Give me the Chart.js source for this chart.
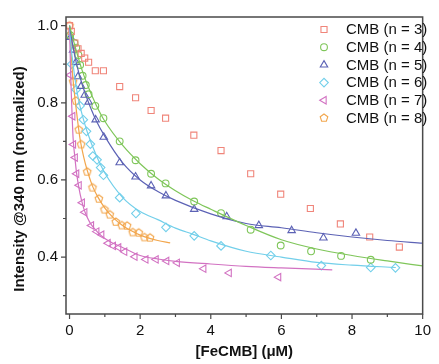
<!DOCTYPE html>
<html><head><meta charset="utf-8">
<script src="https://cdn.jsdelivr.net/npm/chart.js@4/dist/chart.umd.min.js"></script>
<style>html,body{margin:0;padding:0;background:#fff}#wrap{width:439px;height:364px}</style>
</head><body><div id="wrap"><canvas id="c" width="439" height="364"></canvas></div>
<script>
// ---- data ----
const seriesLabels = ['CMB (n = 3)','CMB (n = 4)','CMB (n = 5)','CMB (n = 6)','CMB (n = 7)','CMB (n = 8)'];
const xTickLabels = [0,2,4,6,8,10];
const yTickLabels = [0.4,0.6,0.8,1.0];
const xMinorTicks = [1,3,5,7,9];
const yMinorTicks = [0.3,0.5,0.7,0.9];
const xTitle = '[FeCMB] (\u03BCM)';
const yTitle = 'Intensity @340 nm (normalized)';

// n = 3 (squares, no fit)
const n3X = [0,0.05,0.15,0.24,0.33,0.43,0.54,0.73,0.96,1.42,1.87,2.31,2.72,3.52,4.29,5.13,5.98,6.82,7.67,8.5,9.34];
const n3Y = [1.0,0.985,0.955,0.94,0.928,0.916,0.905,0.883,0.883,0.842,0.813,0.78,0.76,0.716,0.676,0.616,0.563,0.526,0.486,0.452,0.426];
// n = 4 (circles)
const n4X = [0.02,0.14,0.19,0.25,0.30,0.37,0.46,0.54,0.73,0.96,1.42,1.87,2.31,2.72,3.53,4.29,5.13,5.98,6.84,7.69,8.53];
const n4Y = [0.975,0.955,0.943,0.924,0.898,0.87,0.846,0.822,0.792,0.76,0.70,0.651,0.616,0.591,0.544,0.514,0.471,0.43,0.415,0.403,0.393];
const n4FitX = [0,0.1,0.2,0.35,0.5,0.75,1,1.5,2,2.5,3,3.5,4,5,6,7,8,9,10];
const n4FitY = [1.0,0.965,0.932,0.886,0.848,0.795,0.752,0.690,0.642,0.603,0.572,0.546,0.524,0.482,0.445,0.421,0.404,0.390,0.377];
// n = 5 (triangles)
const n5X = [0.03,0.1,0.18,0.24,0.33,0.43,0.54,0.74,0.97,1.42,1.87,2.31,2.73,3.53,4.45,5.36,6.29,7.19,8.11];
const n5Y = [0.97,0.937,0.905,0.868,0.843,0.82,0.802,0.756,0.711,0.645,0.608,0.585,0.559,0.524,0.505,0.482,0.469,0.45,0.462];
const n5FitX = [0,0.1,0.2,0.35,0.5,0.75,1,1.5,2,2.5,3,4,5,6,7,8,9,10];
const n5FitY = [1.0,0.945,0.90,0.85,0.81,0.755,0.713,0.645,0.60,0.57,0.547,0.512,0.487,0.476,0.463,0.452,0.443,0.436];
// n = 6 (diamonds)
const n6X = [0.06,0.185,0.30,0.39,0.48,0.59,0.66,0.78,0.88,0.96,1.42,1.88,2.73,3.53,4.29,5.7,7.13,8.53,9.23];
const n6Y = [0.9,0.834,0.792,0.756,0.726,0.693,0.662,0.652,0.632,0.612,0.554,0.513,0.477,0.455,0.429,0.404,0.378,0.373,0.372];
const n6FitX = [0,0.05,0.1,0.2,0.3,0.4,0.5,0.75,1,1.5,2,2.5,3,3.5,4,5,6,7,8,9.24];
const n6FitY = [1.0,0.94,0.90,0.835,0.79,0.755,0.725,0.665,0.618,0.555,0.518,0.497,0.475,0.459,0.442,0.415,0.400,0.386,0.379,0.373];
// n = 7 (left triangles)
const n7X = [0.02,0.09,0.11,0.16,0.2,0.27,0.36,0.43,0.62,0.77,0.91,1.09,1.24,1.39,1.56,1.85,2.16,2.45,2.75,3.05,3.8,4.52,5.92];
const n7Y = [0.872,0.765,0.692,0.658,0.616,0.586,0.541,0.516,0.482,0.466,0.458,0.436,0.429,0.425,0.414,0.401,0.394,0.394,0.39,0.385,0.37,0.359,0.348];
const n7FitX = [0,0.03,0.06,0.1,0.15,0.2,0.3,0.4,0.5,0.6,0.8,1,1.25,1.5,2,2.5,3,4,5,6,7.44];
const n7FitY = [1.0,0.88,0.80,0.71,0.66,0.617,0.563,0.527,0.503,0.486,0.464,0.448,0.435,0.425,0.404,0.395,0.389,0.382,0.376,0.372,0.367];
// n = 8 (pentagons)
const n8X = [0,0.1,0.18,0.26,0.33,0.5,0.65,0.83,0.99,1.14,1.31,1.48,1.63,1.79,1.96,2.12,2.28];
const n8Y = [1.0,0.855,0.805,0.73,0.692,0.621,0.58,0.551,0.523,0.51,0.491,0.482,0.481,0.464,0.463,0.451,0.45];
const n8FitX = [0,0.05,0.1,0.2,0.3,0.4,0.5,0.65,0.8,1,1.25,1.5,1.75,2,2.25,2.5,2.85];
const n8FitY = [1.0,0.92,0.86,0.775,0.705,0.66,0.625,0.584,0.556,0.527,0.501,0.482,0.468,0.457,0.449,0.443,0.437];

// ---- styling ----
const FONT = "'Liberation Sans', Arial, Helvetica, sans-serif";
const colors = ['#F0857A','#7FC65A','#5C62B5','#72CFEA','#D272C2','#F2A64C'];
const AXIS = '#4a4a4a';

function pentagonCanvas(color, r) {
  const s = Math.ceil(r * 2 + 4);
  const c = document.createElement('canvas');
  c.width = s; c.height = s;
  const g = c.getContext('2d');
  g.strokeStyle = color; g.lineWidth = 1.1;
  g.beginPath();
  for (let k = 0; k < 5; k++) {
    const a = -Math.PI / 2 + k * 2 * Math.PI / 5;
    const px = s / 2 + r * Math.cos(a), py = s / 2 + r * Math.sin(a);
    if (k) g.lineTo(px, py); else g.moveTo(px, py);
  }
  g.closePath(); g.stroke();
  return c;
}
const pent = pentagonCanvas(colors[5], 4);

const markers = [
  {style:'rect', rot:0, r:4.3},
  {style:'circle', rot:0, r:3.4},
  {style:'triangle', rot:0, r:4.3},
  {style:'rectRot', rot:0, r:4.3},
  {style:'triangle', rot:-90, r:4.3},
  {style:pent, rot:0, r:4}
];

const pts = (xs, ys) => xs.map((x, i) => ({x: x, y: ys[i]}));
const scatterX = [n3X,n4X,n5X,n6X,n7X,n8X];
const scatterY = [n3Y,n4Y,n5Y,n6Y,n7Y,n8Y];
const fits = [null,[n4FitX,n4FitY],[n5FitX,n5FitY],[n6FitX,n6FitY],[n7FitX,n7FitY],[n8FitX,n8FitY]];

const datasets = [];
fits.forEach((f, i) => {
  if (!f) return;
  datasets.push({
    label: 'fit' + i, data: pts(f[0], f[1]), showLine: true,
    borderColor: colors[i], borderWidth: 1.2, pointRadius: 0,
    cubicInterpolationMode: 'monotone', fill: false
  });
});
scatterX.forEach((xs, i) => {
  datasets.push({
    label: seriesLabels[i], data: pts(xs, scatterY[i]), showLine: false,
    borderColor: colors[i], backgroundColor: 'rgba(0,0,0,0)', pointBorderWidth: 1.1,
    pointStyle: markers[i].style, pointRotation: markers[i].rot, pointRadius: markers[i].r
  });
});

function drawMarker(ctx, i, x, y) {
  const m = markers[i];
  if (typeof m.style !== 'string') {
    ctx.drawImage(m.style, x - m.style.width / 2, y - m.style.height / 2);
    return;
  }
  ctx.save();
  ctx.strokeStyle = colors[i]; ctx.lineWidth = 1.1; ctx.fillStyle = 'rgba(0,0,0,0)';
  if (Chart.helpers && Chart.helpers.drawPoint) {
    Chart.helpers.drawPoint(ctx, {pointStyle: m.style, rotation: m.rot, radius: m.r, borderWidth: 1.1}, x, y);
  } else {
    ctx.beginPath(); ctx.arc(x, y, m.r, 0, Math.PI * 2); ctx.stroke();
  }
  ctx.restore();
}

const framePlugin = {
  id: 'frame',
  afterDraw(chart) {
    const ctx = chart.ctx, a = chart.chartArea;
    const xs = chart.scales.x, ys = chart.scales.y;
    ctx.save();
    ctx.strokeStyle = AXIS; ctx.lineWidth = 1.5;
    ctx.strokeRect(a.left, a.top, a.right - a.left, a.bottom - a.top);
    ctx.lineWidth = 1.2;
    ctx.beginPath();
    xTickLabels.forEach(v => { const px = xs.getPixelForValue(v); ctx.moveTo(px, a.bottom); ctx.lineTo(px, a.bottom + 5); });
    xMinorTicks.forEach(v => { const px = xs.getPixelForValue(v); ctx.moveTo(px, a.bottom); ctx.lineTo(px, a.bottom + 3); });
    yTickLabels.forEach(v => { const py = ys.getPixelForValue(v); ctx.moveTo(a.left, py); ctx.lineTo(a.left - 5, py); });
    yMinorTicks.forEach(v => { const py = ys.getPixelForValue(v); ctx.moveTo(a.left, py); ctx.lineTo(a.left - 3, py); });
    ctx.stroke();
    // y title
    ctx.fillStyle = '#111';
    ctx.font = 'bold 15px ' + FONT;
    ctx.textAlign = 'center'; ctx.textBaseline = 'middle';
    ctx.translate(19.5, 179); ctx.rotate(-Math.PI / 2);
    ctx.fillText(yTitle, 0, 0);
    ctx.restore();
    // legend
    ctx.save();
    ctx.font = '15px ' + FONT; ctx.fillStyle = '#111';
    ctx.textAlign = 'left'; ctx.textBaseline = 'middle';
    seriesLabels.forEach((lab, i) => {
      const y = 29.5 + i * 17.7;
      drawMarker(ctx, i, 324, y);
      ctx.fillText(lab, 346, y + 0.5);
    });
    ctx.restore();
  }
};

new Chart(document.getElementById('c'), {
  type: 'scatter',
  data: {datasets: datasets},
  options: {
    responsive: false, animation: false, devicePixelRatio: 1, events: [],
    layout: {padding: {left: 0, right: 8, top: 15, bottom: 0}},
    plugins: {legend: {display: false}, tooltip: {enabled: false}},
    scales: {
      x: {
        type: 'linear', min: -0.1, max: 10,
        grid: {display: false, drawTicks: false}, border: {display: false},
        afterBuildTicks: s => { s.ticks = xTickLabels.map(v => ({value: v})); },
        afterFit: s => { s.height = 50; },
        ticks: {padding: 8, color: '#111', font: {family: FONT, size: 15}, maxRotation: 0,
                callback: v => String(v)},
        title: {display: true, text: xTitle, color: '#111', padding: {top: 0, bottom: 3},
                font: {family: FONT, size: 15, weight: 'bold'}}
      },
      y: {
        type: 'linear', min: 0.2524, max: 1.0224,
        grid: {display: false, drawTicks: false}, border: {display: false},
        afterBuildTicks: s => { s.ticks = yTickLabels.map(v => ({value: v})); },
        afterFit: s => { s.width = 66; },
        ticks: {padding: 8, color: '#111', font: {family: FONT, size: 15},
                callback: v => Number(v).toFixed(1)}
      }
    }
  },
  plugins: [framePlugin]
});
</script></body></html>
